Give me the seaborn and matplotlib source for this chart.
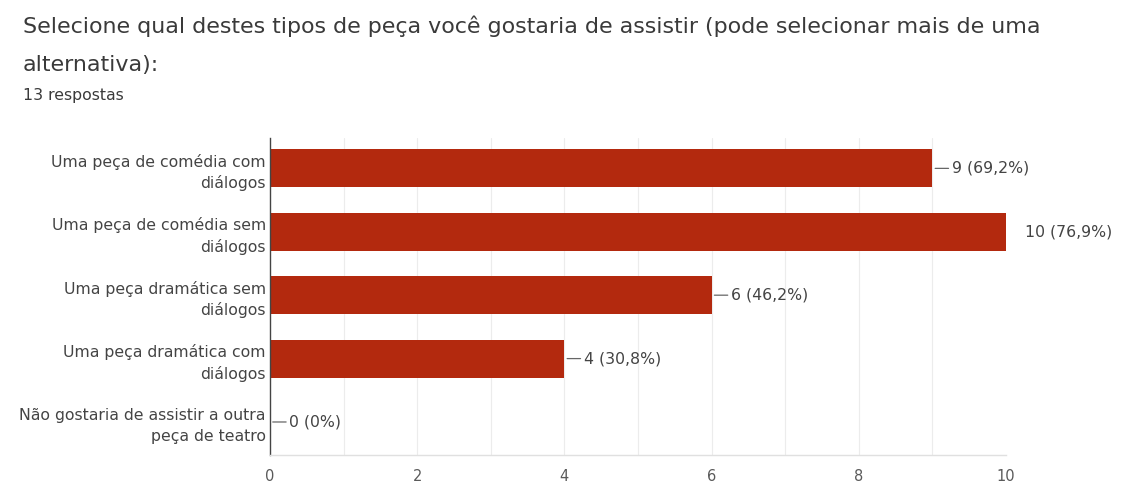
import matplotlib
matplotlib.use("Agg")
import matplotlib.pyplot as plt
import seaborn as sns
import pandas as pd

title_lines = ["Selecione qual destes tipos de peça você gostaria de assistir (pode selecionar mais de uma",
               "alternativa):"]
subtitle = "13 respostas"
categories = [
    "Uma peça de comédia com\ndiálogos",
    "Uma peça de comédia sem\ndiálogos",
    "Uma peça dramática sem\ndiálogos",
    "Uma peça dramática com\ndiálogos",
    "Não gostaria de assistir a outra\npeça de teatro",
]
counts = [9, 10, 6, 4, 0]
percent_labels = ["69,2%", "76,9%", "46,2%", "30,8%", "0%"]
xticks = [0, 2, 4, 6, 8, 10]

sns.set_theme(style="white")
plt.rcParams['font.family'] = ['DejaVu Sans']

df = pd.DataFrame({"cat": categories, "n": counts})

fig = plt.figure(figsize=(11.22, 4.84), dpi=100)
ax = fig.add_axes([0.2406, 0.060, 0.656, 0.655])

sns.barplot(data=df, y="cat", x="n", orient="h", color="#b3290e",
            width=0.6, ax=ax, saturation=1, edgecolor="none")

ax.set_xlim(0, 10)
ax.set_ylim(4.52, -0.48)
for v in range(1, 10):
    ax.axvline(v, color="#ececec", lw=0.8, zorder=0)
ax.set_axisbelow(True)
ax.set_xticks(xticks)
ax.set_xticklabels([str(t) for t in xticks], color="#5a5a5a", fontsize=10.5)
ax.tick_params(axis="x", length=0, pad=10)
ax.tick_params(axis="y", length=0, pad=3)
ax.set_yticks(range(len(categories)))
ax.set_yticklabels(categories, fontsize=11.3, color="#444444",
                   ha="right", linespacing=1.42)
ax.set_xlabel("")
ax.set_ylabel("")
for s in ["top", "right"]:
    ax.spines[s].set_visible(False)
ax.spines["left"].set_color("#444444")
ax.spines["left"].set_linewidth(1.0)
ax.spines["bottom"].set_color("#e0e0e0")
ax.spines["bottom"].set_linewidth(1.0)

for i, (n, p) in enumerate(zip(counts, percent_labels)):
    label = f"{n} ({p})"
    if n >= 10:
        ax.annotate(label, xy=(n, i), xytext=(14, 0), textcoords="offset points",
                    va="center", ha="left", fontsize=11.3, color="#444444",
                    annotation_clip=False)
    else:
        ax.annotate(label, xy=(n, i), xytext=(14, 0), textcoords="offset points",
                    va="center", ha="left", fontsize=11.3, color="#444444",
                    annotation_clip=False,
                    arrowprops=dict(arrowstyle="-", color="#666666", lw=0.9,
                                    shrinkA=0, shrinkB=2))

fig.text(23 / 1122, 1 - 33 / 484, title_lines[0], fontsize=15.9, color="#3a3a3a",
         ha="left", va="baseline")
fig.text(23 / 1122, 1 - 71 / 484, title_lines[1], fontsize=15.9, color="#3a3a3a",
         ha="left", va="baseline")
fig.text(23 / 1122, 1 - 95 / 484, subtitle, fontsize=11.3, color="#3a3a3a",
         ha="left", va="center")

fig.savefig("out.png", dpi=100, facecolor="white")
